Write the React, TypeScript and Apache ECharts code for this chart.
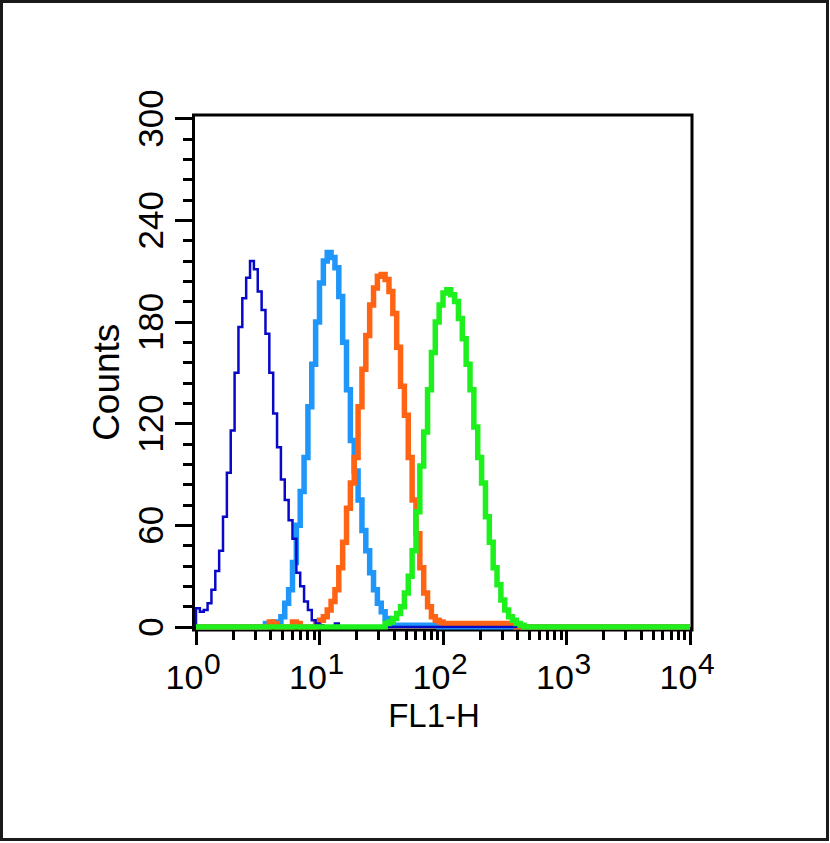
import React, { useEffect, useRef } from 'react';
import * as echarts from 'echarts';

// Histogram channels: 32 bins per decade over 4 decades (10^0 .. 10^4)
const BINS_PER_DECADE = 32;
const TOTAL_BINS = 128;

const yTickValues = [0, 60, 120, 180, 240, 300];
const xMajorTicks = [1, 10, 100, 1000, 10000];
const xMajorBase = '10';
const xMajorExponents = ['0', '1', '2', '3', '4'];
const xMinorTicks = [
  2, 3, 4, 5, 6, 7, 8, 9,
  20, 30, 40, 50, 60, 70, 80, 90,
  200, 300, 400, 500, 600, 700, 800, 900,
  2000, 3000, 4000, 5000, 6000, 7000, 8000, 9000,
];

const xAxisTitle = 'FL1-H';
const yAxisTitle = 'Counts';

// counts per bin, starting at the given bin index
const darkBlueStart = 0;
const darkBlueCounts = [
  11, 9, 10, 14, 22, 33, 45, 65, 91, 116, 150, 177, 194, 206, 216, 211, 198, 187,
  173, 150, 126, 106, 87, 75, 63, 52, 32, 24, 15, 10, 4, 2, 1, 0, 0, 0, 2, 0,
];

const lightBlueStart = 18;
const lightBlueCounts = [
  2, 1, 3, 3, 6, 14, 22, 38, 60, 80, 100, 130, 155, 180, 203, 216, 221, 218, 212,
  195, 168, 140, 110, 92, 75, 57, 45, 32, 22, 14, 9, 5, 3, 1, 1, 1, 1, 1, 1, 1, 1,
  1, 1, 1, 1, 0,
];

const orangeStart = 19;
const orangeCounts = [
  3, 2, 0, 0, 0, 0, 3, 2, 0, 0, 0, 0, 3, 4, 6, 10, 15, 22, 35, 50, 70, 85, 100,
  130, 152, 172, 190, 200, 207, 208, 205, 198, 185, 165, 142, 125, 100, 75, 55,
  35, 20, 12, 6, 4, 3, 2, 2, 2, 2, 2, 2, 2, 2, 2, 2, 2, 2, 2, 2, 2, 2, 2, 2, 2, 0,
];

const greenStart = 49;
const greenCounts = [
  2, 3, 5, 8, 12, 20, 30, 45, 68, 95, 115, 140, 162, 180, 190, 197, 199, 196, 192,
  182, 170, 155, 140, 118, 100, 85, 65, 50, 35, 25, 16, 10, 6, 4, 2, 1,
];

const FONT = '"Liberation Sans", Arial, Helvetica, sans-serif';

function buildSeriesData(start: number, counts: number[]) {
  const data: [number, number][] = [[1, 0]];
  for (let k = 0; k <= TOTAL_BINS; k++) {
    const idx = k - start;
    const c = idx >= 0 && idx < counts.length ? counts[idx] : 0;
    data.push([Math.pow(10, k / BINS_PER_DECADE), k === TOTAL_BINS ? 0 : c]);
  }
  return data;
}

function exponentOf(v: number) {
  const i = xMajorTicks.findIndex((t) => Math.abs(t - v) / t < 1e-6);
  return i >= 0 ? xMajorExponents[i] : '';
}

export default function App() {
  const ref = useRef<HTMLDivElement>(null);

  useEffect(() => {
    if (!ref.current) return;
    const chart = echarts.init(ref.current, null, { renderer: 'svg' });

    const mkSeries = (name: string, start: number, counts: number[], color: string, width: number, z: number) => ({
      name,
      type: 'line',
      step: 'end',
      data: buildSeriesData(start, counts),
      showSymbol: false,
      symbol: 'none',
      silent: true,
      z,
      lineStyle: { color, width, join: 'miter', cap: 'butt' },
      itemStyle: { color },
    });

    chart.setOption({
      animation: false,
      backgroundColor: '#ffffff',
      grid: { left: 196, right: 140, top: 118.5, bottom: 216, containLabel: false },
      xAxis: [
        {
          type: 'log',
          logBase: 10,
          min: 1,
          max: 10000,
          position: 'bottom',
          offset: 3,
          axisLine: { show: false },
          splitLine: { show: false },
          axisTick: {
            show: true,
            customValues: xMajorTicks,
            length: 18,
            lineStyle: { color: '#000', width: 3 },
          },
          axisLabel: {
            customValues: xMajorTicks,
            margin: 30,
            color: '#000',
            fontFamily: FONT,
            fontSize: 34,
            padding: [0, 23, 0, 0],
            formatter: () => xMajorBase,
          },
          name: xAxisTitle,
          nameLocation: 'middle',
          nameGap: 64,
          nameTextStyle: { fontFamily: FONT, fontSize: 33, color: '#000', padding: [0, 18, 0, 0] },
        },
        {
          type: 'log',
          logBase: 10,
          min: 1,
          max: 10000,
          position: 'bottom',
          offset: 3,
          axisLine: { show: false },
          splitLine: { show: false },
          axisTick: {
            show: true,
            customValues: xMinorTicks,
            length: 10,
            lineStyle: { color: '#000', width: 3 },
          },
          axisLabel: {
            customValues: xMajorTicks,
            margin: 18.5,
            color: '#000',
            fontFamily: FONT,
            fontSize: 30,
            align: 'left',
            padding: [0, 0, 0, 8],
            formatter: (v: number) => exponentOf(v),
          },
        },
      ],
      yAxis: {
        type: 'value',
        min: 0,
        max: 300,
        interval: 60,
        position: 'left',
        offset: 3,
        axisLine: { show: false },
        splitLine: { show: false },
        axisTick: { show: true, length: 18, lineStyle: { color: '#000', width: 3 } },
        minorTick: { show: true, splitNumber: 5, length: 10, lineStyle: { color: '#000', width: 3 } },
        minorSplitLine: { show: false },
        axisLabel: {
          customValues: yTickValues,
          rotate: 90,
          margin: 25,
          fontFamily: FONT,
          fontSize: 35,
          color: '#000',
        },
        name: yAxisTitle,
        nameLocation: 'middle',
        nameGap: 62,
        nameTextStyle: { fontFamily: FONT, fontSize: 37, color: '#000', padding: [0, 19, 0, 0] },
      },
      series: [
        mkSeries('lightBlue', lightBlueStart, lightBlueCounts, '#1E96FA', 5.5, 2),
        mkSeries('orange', orangeStart, orangeCounts, '#FF6414', 5.5, 3),
        mkSeries('darkBlue', darkBlueStart, darkBlueCounts, '#0808C8', 2.5, 4),
        mkSeries('green', greenStart, greenCounts, '#1EF01E', 5.5, 5),
      ],
      graphic: [
        {
          type: 'rect',
          z: 100,
          silent: true,
          shape: { x: 1.5, y: 1.5, width: 826, height: 838 },
          style: { fill: 'none', stroke: '#1a1a1a', lineWidth: 3 },
        },
        {
          type: 'rect',
          z: 1,
          silent: true,
          shape: { x: 193.5, y: 115, width: 498.5, height: 515 },
          style: { fill: 'none', stroke: '#000', lineWidth: 3 },
        },
      ],
    });

    return () => chart.dispose();
  }, []);

  return (
    <div
      ref={ref}
      style={{ position: 'fixed', left: 0, top: 0, width: 830, height: 843, background: '#fff' }}
    />
  );
}
